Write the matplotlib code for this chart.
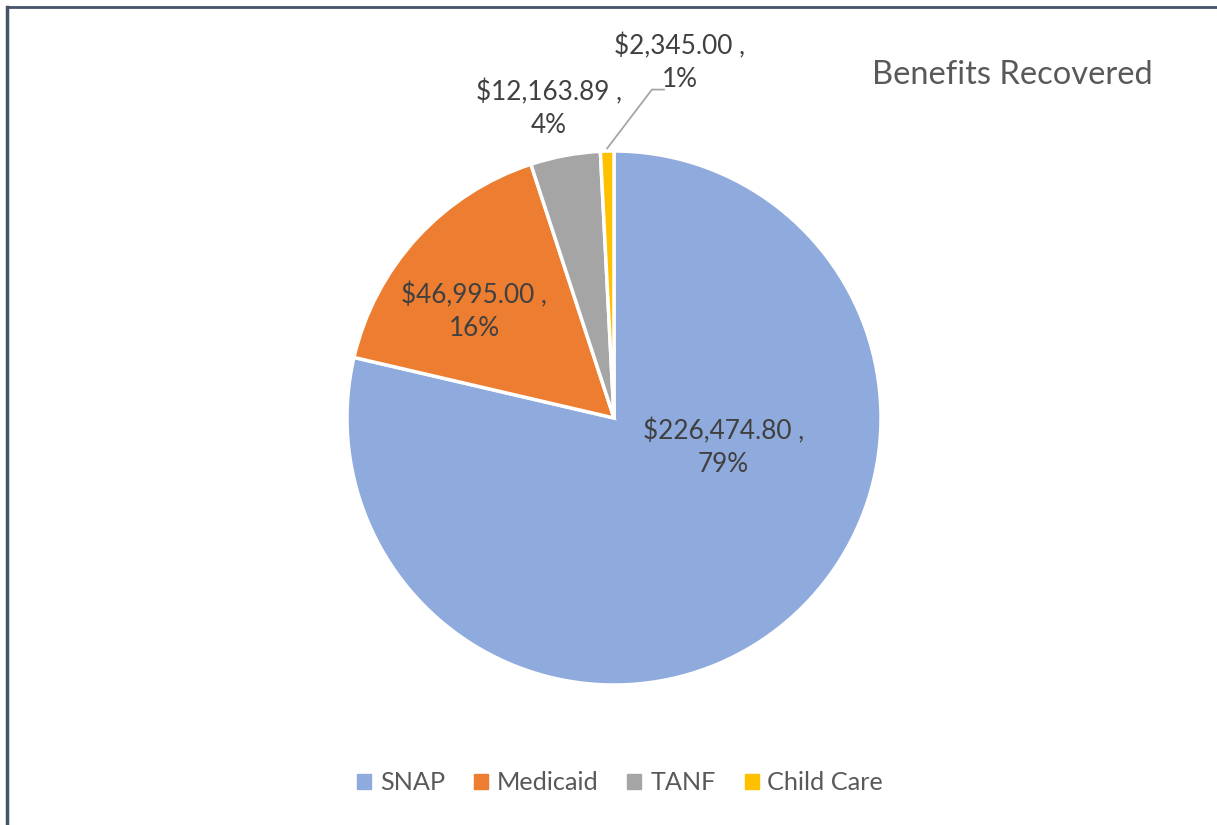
#!/usr/bin/env python
import matplotlib
matplotlib.use('Agg')
import matplotlib.pyplot as plt
import numpy as np

categories = ['SNAP', 'Medicaid', 'TANF', 'Child Care']
amounts = [226474.80, 46995.00, 12163.89, 2345.00]
colors = ['#8FAADC', '#ED7D31', '#A5A5A5', '#FFC000']
title = 'Benefits Recovered'

# label offsets (pie radius units) relative to the pie centre
label_pos = [(0.41, -0.11), (-0.524, 0.40), (-0.243, 1.16), (0.247, 1.33)]


def main():
    plt.rcParams['font.family'] = ['Lato', 'DejaVu Sans']
    text_color = '#404040'

    fig = plt.figure(figsize=(12.17, 8.25), dpi=100)
    W, H = 1217, 825
    cx, cy, r = 614, 418, 267
    ax = fig.add_axes([(cx - r) / W, (H - cy - r) / H, 2 * r / W, 2 * r / H])

    wedges, _ = ax.pie(amounts, colors=colors, startangle=90, counterclock=False,
                       radius=1, wedgeprops=dict(edgecolor='white', linewidth=2.5))
    ax.set_xlim(-1, 1)
    ax.set_ylim(-1, 1)
    ax.set_aspect('equal')
    ax.axis('off')

    total = sum(amounts)
    for i, (w, v) in enumerate(zip(wedges, amounts)):
        pct = round(v / total * 100)
        txt = '${:,.2f} ,\n{}%'.format(v, pct)
        x, y = label_pos[i]
        ax.text(x, y, txt, ha='center', va='center', fontsize=18.8,
                color=text_color, linespacing=1.38)

    # leader line for the small Child Care slice
    w = wedges[3]
    ang = np.deg2rad((w.theta1 + w.theta2) / 2)
    sx, sy = np.cos(ang) * 1.01, np.sin(ang) * 1.01
    lx, ly = label_pos[3]
    ax.plot([sx, lx - 0.105, lx - 0.06], [sy, ly - 0.10, ly - 0.10],
            color='#A6A6A6', lw=1.3, clip_on=False)

    fig.text(1012 / W, 1 - 75 / H, title, ha='center', va='center',
             fontsize=23.5, color='#595959')

    handles = [plt.Rectangle((0, 0), 1, 1, color=c) for c in colors]
    fig.legend(handles, categories, loc='center', bbox_to_anchor=(620 / W, 1 - 783 / H),
               ncol=4, frameon=False, fontsize=18.2, handlelength=0.55, handleheight=0.55,
               handletextpad=0.35, columnspacing=1.15, labelcolor='#595959')

    # frame lines on left and top edges
    fig.add_artist(plt.Line2D([7 / W, 7 / W], [0, 1 - 7 / H], color='#44546A', lw=2.5,
                              transform=fig.transFigure))
    fig.add_artist(plt.Line2D([7 / W, 1], [1 - 7 / H, 1 - 7 / H], color='#44546A', lw=2.0,
                              transform=fig.transFigure))

    fig.savefig('out.png', dpi=100, facecolor='white')


if __name__ == '__main__':
    main()
